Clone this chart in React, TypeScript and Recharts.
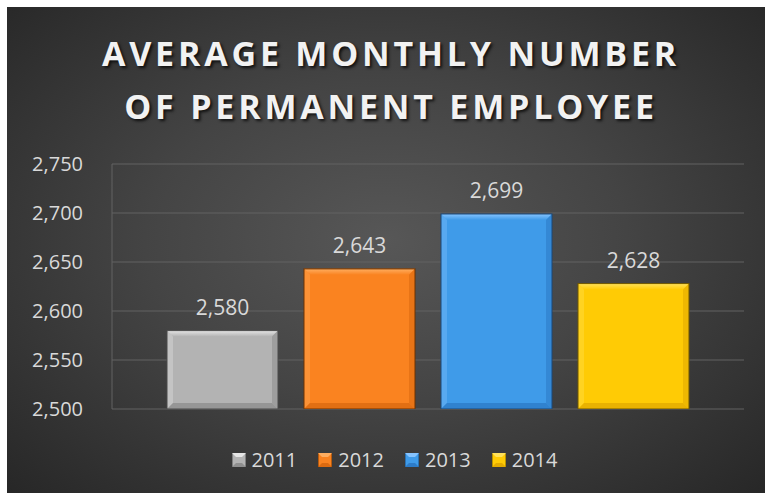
import React from "react"
import { BarChart, Bar, XAxis, YAxis, CartesianGrid, Legend, LabelList } from "recharts"

const years = ["2011", "2012", "2013", "2014"]
const employees = [2580, 2643, 2699, 2628]
const yTicks = [2500, 2550, 2600, 2650, 2700, 2750]

const colors = ["#b3b3b3", "#fa8320", "#3f9be9", "#ffcb05"]
const edges = ["#4a4a4a", "#6e3300", "#1b4878", "#6f5600"]
const highlights = ["#e6e6e6", "#ffae60", "#86c4ff", "#ffe15a"]
const shades = ["#8f8f8f", "#dc6a10", "#2d7cc8", "#e3ab00"]

const row: Record<string, string | number> = { name: "Employees" }
years.forEach((y, i) => {
  row[y] = employees[i]
})
const data = [row]

const fmt = (v: number) => v.toLocaleString("en-US")
const font = "'Open Sans', sans-serif"

// bar with a soft bevel, close to excel's "angle" bevel
const BevelBar = (idx: number) => (props: any) => {
  const { x, y, width, height } = props
  if (!width || !height) return null
  const b = Math.min(6, width / 6, height / 4)
  const gid = `bev-top-${idx}`
  return (
    <g>
      <defs>
        <linearGradient id={gid} x1="0" y1="0" x2="0" y2="1">
          <stop offset="0" stopColor={highlights[idx]} />
          <stop offset="1" stopColor={colors[idx]} />
        </linearGradient>
      </defs>
      <rect x={x} y={y} width={width} height={height} fill={colors[idx]} />
      <polygon
        points={`${x},${y} ${x + width},${y} ${x + width - b},${y + b} ${x + b},${y + b}`}
        fill={`url(#${gid})`}
      />
      <polygon
        points={`${x},${y} ${x + b},${y + b} ${x + b},${y + height - b} ${x},${y + height}`}
        fill={highlights[idx]}
        opacity={0.35}
      />
      <polygon
        points={`${x + width},${y} ${x + width - b},${y + b} ${x + width - b},${y + height - b} ${x + width},${y + height}`}
        fill={shades[idx]}
        opacity={0.6}
      />
      <polygon
        points={`${x},${y + height} ${x + b},${y + height - b} ${x + width - b},${y + height - b} ${x + width},${y + height}`}
        fill={shades[idx]}
        opacity={0.8}
      />
      <rect x={x} y={y} width={width} height={height} fill="none" stroke={edges[idx]} strokeWidth={1} />
    </g>
  )
}

const LegendContent = ({ payload }: any) => (
  <div style={{ display: "flex", justifyContent: "center", gap: 21, paddingLeft: 38, fontFamily: font, fontSize: 20, color: "#d9d9d9" }}>
    {(payload || []).map((p: any, i: number) => (
      <div key={p.value} style={{ display: "flex", alignItems: "center" }}>
        <svg width={14} height={14} style={{ marginRight: 6 }}>
          <rect x={0} y={0} width={14} height={14} fill={colors[i]} stroke={edges[i]} />
          <polygon points="0,0 14,0 10,4 4,4" fill={highlights[i]} />
          <polygon points="0,14 4,10 10,10 14,14" fill={shades[i]} />
        </svg>
        <span>{p.value}</span>
      </div>
    ))}
  </div>
)

export default function App() {
  return (
    <div
      style={{
        position: "absolute",
        left: 7,
        top: 7,
        width: 758,
        height: 486,
        background: "radial-gradient(ellipse at 50% 48%, #575757 0%, #444 45%, #272727 100%)",
        overflow: "hidden",
      }}
    >
      <div
        style={{
          position: "absolute",
          top: 20,
          left: 0,
          width: 758,
          paddingLeft: 10,
          boxSizing: "border-box",
          textAlign: "center",
          fontFamily: font,
          fontWeight: 700,
          fontSize: 34,
          lineHeight: "53px",
          letterSpacing: 3.8,
          color: "#f2f2f2",
          textShadow: "2px 2px 3px rgba(0,0,0,0.75)",
        }}
      >
        AVERAGE MONTHLY NUMBER
        <br />
        OF PERMANENT EMPLOYEE
      </div>
      <div style={{ position: "absolute", left: 0, top: 0 }}>
        <BarChart
          width={758}
          height={486}
          data={data}
          margin={{ top: 157, right: 21, bottom: 57, left: 0 }}
          barCategoryGap={55}
          barGap={26}
        >
          <CartesianGrid vertical={false} stroke="#626262" yAxisId="left" />
          <XAxis dataKey="name" hide />
          <YAxis
            yAxisId="left"
            domain={[2500, 2750]}
            ticks={yTicks}
            allowDataOverflow
            width={105}
            tickFormatter={fmt}
            tickLine={false}
            tickSize={0}
            tickMargin={29}
            axisLine={{ stroke: "#626262" }}
            tick={{ fill: "#d9d9d9", fontSize: 20, fontFamily: font }}
          />
          <YAxis
            yAxisId="right"
            orientation="right"
            domain={[2500, 2750]}
            width={0}
            tick={false}
            tickLine={false}
            axisLine={{ stroke: "#626262" }}
          />
          <Legend verticalAlign="bottom" content={<LegendContent />} wrapperStyle={{ top: 439, bottom: "auto" }} />
          {years.map((y, i) => (
            <Bar key={y} dataKey={y} yAxisId="left" fill={colors[i]} shape={BevelBar(i)} isAnimationActive={false}>
              <LabelList dataKey={y} position="top" offset={16} formatter={(v: any) => fmt(Number(v))} fill="#d9d9d9" fontSize={21} fontFamily={font} />
            </Bar>
          ))}
        </BarChart>
      </div>
    </div>
  )
}
